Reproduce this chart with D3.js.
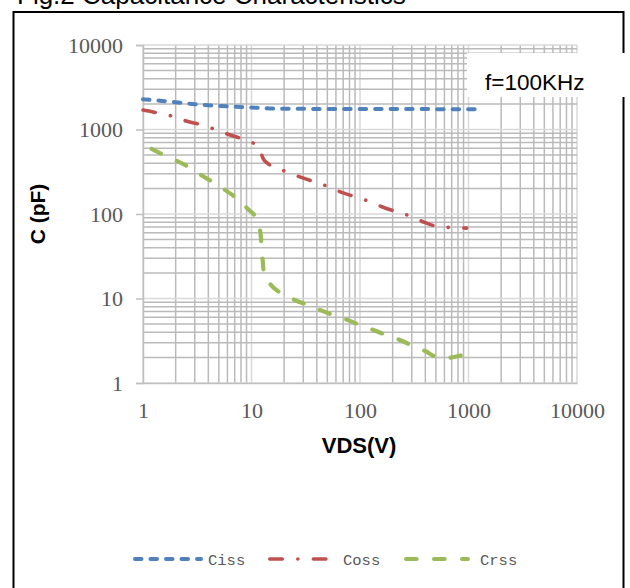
<!DOCTYPE html>
<html><head><meta charset="utf-8">
<script src="https://cdn.jsdelivr.net/npm/d3@7"></script>
<style>body{margin:0;background:#fff}svg{display:block}</style>
</head><body>
<svg id="c" width="630" height="588"></svg>
<script>
// ---- data ----
const seriesNames = ["Ciss", "Coss", "Crss"];
const cissV = [1, 1.5, 2, 3, 5, 7, 10, 17, 30, 100, 300, 1000, 1200];
const cissC = [2280, 2180, 2100, 1990, 1900, 1860, 1820, 1765, 1755, 1750, 1745, 1740, 1740];
const cossV = [1, 1.4, 2, 2.5, 3.5, 4.8, 6, 8.4, 11, 11.8, 12.3, 12.8, 14, 15.7, 21, 27.5, 37.6, 51.5, 65, 90, 123, 159, 218, 300, 380, 525, 720, 960];
const cossC = [1700, 1560, 1400, 1260, 1130, 986, 885, 765, 655, 600, 520, 455, 400, 363, 317, 277, 241, 210, 184, 160, 140, 122, 106, 93, 81, 71, 69, 68];
const crssV = [1.2, 1.62, 2.12, 2.77, 3.54, 4.6, 5.9, 7.6, 9.3, 11.3, 12.1, 12.5, 13.1, 15.3, 18.9, 25, 32.6, 43, 56, 76, 100, 133, 174, 233, 305, 398, 515, 600, 687, 940];
const crssC = [590, 486, 416, 347, 282, 231, 187, 147, 114, 85, 59, 35, 19, 14.2, 11.5, 9.6, 8.4, 7.3, 6.4, 5.6, 4.85, 4.24, 3.7, 3.23, 2.76, 2.39, 2.01, 1.96, 2.0, 2.19];
const xTicks = [1, 10, 100, 1000, 10000];
const yTicks = [1, 10, 100, 1000, 10000];
const titleText = "Fig.2  Capacitance Characteristics";
const xTitle = "VDS(V)";
const yTitle = "C (pF)";
const noteText = "f=100KHz";

// ---- styles ----
const colors = {Ciss: "#4f81bd", Coss: "#c0504d", Crss: "#9bbb59"};
const dashes = {Ciss: "6.5,9", Coss: "12.5,15.5,0.1,15.5", Crss: "10.5,17.5"};
const widths = {Ciss: 4, Coss: 3.6, Crss: 4.2};

const svg = d3.select("#c");
const x = d3.scaleLog().domain([1, 10000]).range([143, 577]);
const y = d3.scaleLog().domain([1, 10000]).range([383, 45]);

// title (cut off at top, as in the reference)
svg.append("text").attr("x", 17).attr("y", 4)
  .attr("font-family", "Liberation Sans, Arial, sans-serif").attr("font-size", 26)
  .attr("fill", "#000").text(titleText);

// frame
svg.append("rect").attr("x", 13.5).attr("y", 12).attr("width", 610).attr("height", 600)
  .attr("fill", "none").attr("stroke", "#000").attr("stroke-width", 2);

// grid values
const gridVals = [];
for (let k = 0; k < 4; k++) for (let m = 1; m <= 9; m++) gridVals.push({v: m * Math.pow(10, k), major: m === 1});
gridVals.push({v: 10000, major: true});

const g = svg.append("g");
const ordered = gridVals.filter(d => !d.major).concat(gridVals.filter(d => d.major));
g.selectAll("line.v").data(ordered).join("line")
  .attr("x1", d => x(d.v)).attr("x2", d => x(d.v)).attr("y1", y(10000)).attr("y2", y(1))
  .attr("stroke", d => d.major ? "#d9d9d9" : "#bababa").attr("stroke-width", 1.5);
g.selectAll("line.h").data(ordered).join("line")
  .attr("y1", d => y(d.v)).attr("y2", d => y(d.v)).attr("x1", x(1)).attr("x2", x(10000))
  .attr("stroke", d => d.major ? "#d9d9d9" : "#bababa").attr("stroke-width", 1.5);

// axes
const ya = svg.append("g").attr("transform", `translate(${x(1)},0)`)
  .call(d3.axisLeft(y).tickValues(yTicks).tickFormat(d3.format("d")).tickSize(7).tickPadding(13));
const xa = svg.append("g").attr("transform", `translate(0,${y(1)})`)
  .call(d3.axisBottom(x).tickValues(xTicks).tickFormat(d3.format("d")).tickSize(0).tickPadding(19));
[ya, xa].forEach(a => {
  a.select(".domain").attr("stroke", "#bfbfbf").attr("stroke-width", 1.5);
  a.selectAll(".tick line").attr("stroke", "#bfbfbf").attr("stroke-width", 1.5);
  a.selectAll("text").attr("font-family", "Liberation Serif, Times New Roman, serif")
    .attr("font-size", 22).attr("fill", "#595959");
});

// series
const series = [
  {name: "Ciss", v: cissV, c: cissC},
  {name: "Coss", v: cossV, c: cossC},
  {name: "Crss", v: crssV, c: crssC}
];
const line = d3.line().x(d => x(d[0])).y(d => y(d[1])).curve(d3.curveMonotoneX);
series.forEach(s => {
  svg.append("path").datum(s.v.map((v, i) => [v, s.c[i]]))
    .attr("d", line).attr("fill", "none").attr("stroke", colors[s.name])
    .attr("stroke-width", widths[s.name]).attr("stroke-dasharray", dashes[s.name])
    .attr("stroke-linecap", "round").attr("stroke-linejoin", "round");
});

// note box
svg.append("rect").attr("x", 467).attr("y", 53).attr("width", 170).attr("height", 44).attr("fill", "#fff");
svg.append("text").attr("x", 485).attr("y", 89.5)
  .attr("font-family", "Liberation Sans, Arial, sans-serif").attr("font-size", 22.5)
  .attr("fill", "#000").text(noteText);

// axis titles
svg.append("text").attr("transform", "translate(45,214) rotate(-90)").attr("text-anchor", "middle")
  .attr("font-family", "Liberation Sans, Arial, sans-serif").attr("font-weight", "bold").attr("font-size", 21)
  .attr("fill", "#000").text(yTitle);
svg.append("text").attr("x", 359).attr("y", 453).attr("text-anchor", "middle")
  .attr("font-family", "Liberation Sans, Arial, sans-serif").attr("font-weight", "bold").attr("font-size", 22)
  .attr("fill", "#000").text(xTitle);

// legend
const legend = [
  {name: "Ciss", x1: 133, x2: 203, tx: 208},
  {name: "Coss", x1: 268, x2: 328, tx: 343},
  {name: "Crss", x1: 404, x2: 470, tx: 480}
];
legend.forEach(l => {
  svg.append("line").attr("x1", l.x1 + widths[l.name] / 2).attr("x2", l.x2 - widths[l.name] / 2)
    .attr("y1", 559).attr("y2", 559)
    .attr("stroke", colors[l.name]).attr("stroke-width", widths[l.name])
    .attr("stroke-dasharray", dashes[l.name]).attr("stroke-linecap", "round");
  svg.append("text").attr("x", l.tx).attr("y", 565)
    .attr("font-family", "Liberation Mono, Courier New, monospace").attr("font-size", 15.5)
    .attr("fill", "#595959").text(l.name);
});
</script>
</body></html>
